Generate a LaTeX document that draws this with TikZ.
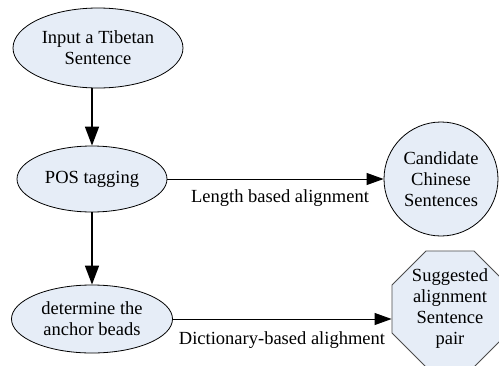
\documentclass[tikz,border=0pt]{standalone}
\usepackage{fontspec}
\setmainfont{Liberation Serif}
\usetikzlibrary{shapes.geometric,arrows.meta}
\definecolor{nodefill}{RGB}{230,237,247}
\begin{document}
\begin{tikzpicture}[x=1pt,y=-1pt,
  every node/.style={font=\fontsize{18.5}{21}\selectfont, align=center},
  ell/.style={ellipse, draw=black, fill=nodefill, inner sep=0pt, line width=0.8pt},
  circ/.style={circle, draw=black, fill=nodefill, inner sep=0pt, line width=0.8pt},
  octa/.style={regular polygon, regular polygon sides=8, draw=black!70, fill=nodefill, inner sep=0pt, line width=0.8pt},
  varr/.style={-{Triangle[length=19pt,width=14pt]}, line width=1.6pt},
  harr/.style={-{Triangle[length=17pt,width=12pt]}, line width=0.9pt},
  lbl/.style={inner sep=0pt}
]
\useasboundingbox (0,0) rectangle (499,365);
\node[ell, minimum width=170, minimum height=80] (input) at (98,48) {Input a Tibetan\\Sentence};
\node[ell, minimum width=150, minimum height=66] (pos) at (92,179) {POS tagging};
\node[ell, minimum width=161, minimum height=68] (det) at (92,319) {determine the\\anchor beads};
\node[circ, minimum size=114] (cand) at (441,179) {Candidate\\Chinese\\Sentences};
\node[octa, minimum size=125.6] (sug) at (450,309) {Suggested\\alignment\\Sentence\\pair};
\node[lbl] (l1) at (280,198) {Length based alignment};
\node[lbl] (l2) at (282,340) {Dictionary-based alighment};
\draw[varr] (input.south -| pos.north) -- (pos.north);
\draw[varr] (pos.south) -- (det.north);
\draw[harr] (pos.east) -- (cand.west);
\draw[harr] (det.east) -- (det.east -| sug.west);
\end{tikzpicture}
\end{document}
